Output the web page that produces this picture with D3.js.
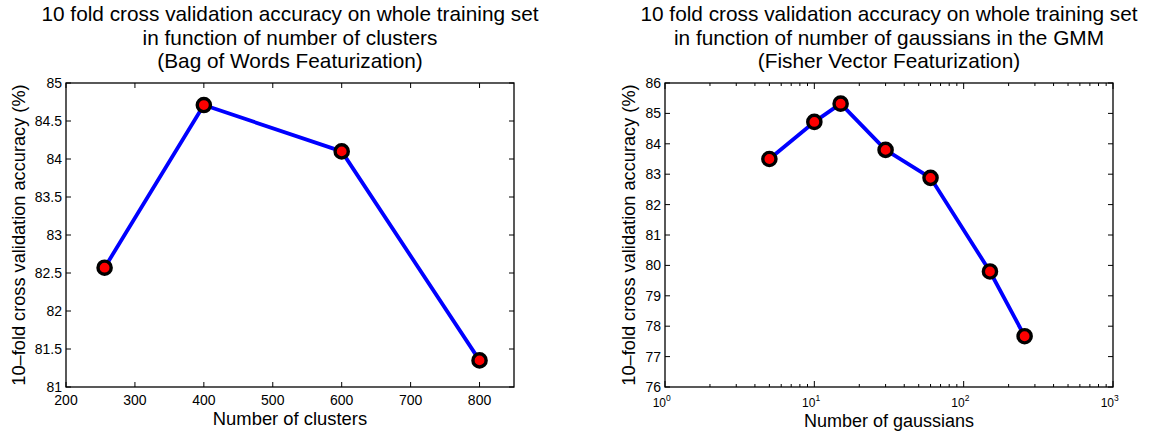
<!DOCTYPE html>
<html>
<head>
<meta charset="utf-8">
<script src="https://cdn.jsdelivr.net/npm/d3@7"></script>
<style>
  html, body { margin: 0; padding: 0; background: #fff; }
  svg { display: block; }
  text { font-family: "Liberation Sans", Arial, Helvetica, sans-serif; fill: #000; }
</style>
</head>
<body>
<svg id="chart" width="1149" height="434"></svg>
<script>
// ---- Data: left chart (Bag of Words) ----
const bowClusters = [256, 400, 600, 800];
const bowAccuracy = [82.57, 84.71, 84.10, 81.35];
const bowXTicks = [200, 300, 400, 500, 600, 700, 800];
const bowYTicks = [81, 81.5, 82, 82.5, 83, 83.5, 84, 84.5, 85];
const bowTitle = ["10 fold cross validation accuracy on whole training set",
                  "in function of number of clusters",
                  "(Bag of Words Featurization)"];
const bowXLabel = "Number of clusters";

// ---- Data: right chart (Fisher Vector) ----
const gmmGaussians = [5, 10, 15, 30, 60, 150, 256];
const gmmAccuracy = [83.5, 84.72, 85.32, 83.8, 82.88, 79.8, 77.67];
const gmmXMajor = [1, 10, 100, 1000];
const gmmYTicks = [76, 77, 78, 79, 80, 81, 82, 83, 84, 85, 86];
const gmmTitle = ["10 fold cross validation accuracy on whole training set",
                  "in function of number of gaussians in the GMM",
                  "(Fisher Vector Featurization)"];
const gmmXLabel = "Number of gaussians";

const yLabel = "10\u2013fold cross validation accuracy (%)";

const svg = d3.select("#chart");

function drawPanel(cfg) {
  const g = svg.append("g");
  const {x0, x1, y0, y1, xScale, yScale} = cfg;
  const TL = 5;

  // Titles
  cfg.title.forEach((t, i) => {
    g.append("text").attr("x", (x0 + x1) / 2).attr("y", 21 + i * 23.5)
      .attr("text-anchor", "middle").style("font-size", "20.8px").text(t);
  });

  // Box
  g.append("rect").attr("x", x0).attr("y", y0).attr("width", x1 - x0).attr("height", y1 - y0)
    .attr("fill", "none").attr("stroke", "#000").attr("stroke-width", 1.3);

  // Y ticks (inside, both sides)
  const yt = g.append("g");
  cfg.yTicks.forEach(v => {
    const y = yScale(v);
    yt.append("line").attr("x1", x0).attr("x2", x0 + TL).attr("y1", y).attr("y2", y).attr("stroke", "#000");
    yt.append("line").attr("x1", x1).attr("x2", x1 - TL).attr("y1", y).attr("y2", y).attr("stroke", "#000");
    yt.append("text").attr("x", x0 - 4).attr("y", y).attr("dy", "0.35em")
      .attr("text-anchor", "end").style("font-size", "14px").text(d3.format("~g")(v));
  });

  // X ticks
  cfg.drawXTicks(g);

  // Axis labels
  g.append("text").attr("x", (x0 + x1) / 2).attr("y", cfg.xLabelY)
    .attr("text-anchor", "middle").style("font-size", cfg.xLabelSize).text(cfg.xLabel);
  g.append("text").attr("transform", `translate(${cfg.yLabelX},${(y0 + y1) / 2}) rotate(-90)`)
    .attr("text-anchor", "middle").style("font-size", "18.2px").text(yLabel);

  // Line + markers
  const pts = cfg.xs.map((x, i) => [x, cfg.ys[i]]);
  const line = d3.line().x(d => xScale(d[0])).y(d => yScale(d[1]));
  g.append("path").datum(pts).attr("d", line).attr("fill", "none")
    .attr("stroke", "#0000ff").attr("stroke-width", 3.8).attr("stroke-linejoin", "round");
  g.selectAll("circle.m").data(pts).enter().append("circle")
    .attr("cx", d => xScale(d[0])).attr("cy", d => yScale(d[1]))
    .attr("r", 6.6).attr("fill", "#ff0000").attr("stroke", "#000").attr("stroke-width", 3.4);
}

// Left panel
{
  const x0 = 66, x1 = 514, y0 = 83, y1 = 387;
  const xScale = d3.scaleLinear().domain([200, 850]).range([x0, x1]);
  const yScale = d3.scaleLinear().domain([81, 85]).range([y1, y0]);
  drawPanel({
    x0, x1, y0, y1, xScale, yScale, title: bowTitle, yTicks: bowYTicks,
    xLabel: bowXLabel, xLabelY: 425, xLabelSize: "18.4px", yLabelX: 25,
    xs: bowClusters, ys: bowAccuracy,
    drawXTicks(g) {
      bowXTicks.forEach(v => {
        const x = xScale(v);
        g.append("line").attr("x1", x).attr("x2", x).attr("y1", y1).attr("y2", y1 - 5).attr("stroke", "#000");
        g.append("line").attr("x1", x).attr("x2", x).attr("y1", y0).attr("y2", y0 + 5).attr("stroke", "#000");
        g.append("text").attr("x", x).attr("y", 405).attr("text-anchor", "middle")
          .style("font-size", "14px").text(v);
      });
    }
  });
}

// Right panel
{
  const x0 = 665, x1 = 1113, y0 = 83, y1 = 387;
  const xScale = d3.scaleLog().domain([1, 1000]).range([x0, x1]);
  const yScale = d3.scaleLinear().domain([76, 86]).range([y1, y0]);
  drawPanel({
    x0, x1, y0, y1, xScale, yScale, title: gmmTitle, yTicks: gmmYTicks,
    xLabel: gmmXLabel, xLabelY: 427, xLabelSize: "18px", yLabelX: 635,
    xs: gmmGaussians, ys: gmmAccuracy,
    drawXTicks(g) {
      const minor = [];
      for (let d = 1; d < 1000; d *= 10) for (let k = 2; k <= 9; k++) minor.push(d * k);
      minor.forEach(v => {
        const x = xScale(v);
        g.append("line").attr("x1", x).attr("x2", x).attr("y1", y1).attr("y2", y1 - 3).attr("stroke", "#000");
        g.append("line").attr("x1", x).attr("x2", x).attr("y1", y0).attr("y2", y0 + 3).attr("stroke", "#000");
      });
      gmmXMajor.forEach(v => {
        const x = xScale(v);
        g.append("line").attr("x1", x).attr("x2", x).attr("y1", y1).attr("y2", y1 - 6).attr("stroke", "#000");
        g.append("line").attr("x1", x).attr("x2", x).attr("y1", y0).attr("y2", y0 + 6).attr("stroke", "#000");
        const t = g.append("text").attr("x", x - 12.3).attr("y", 406.5).attr("text-anchor", "start")
          .style("font-size", "12px");
        t.append("tspan").text("10");
        t.append("tspan").attr("dy", -6).style("font-size", "8.5px").text(Math.round(Math.log10(v)));
      });
    }
  });
}
</script>
</body>
</html>
